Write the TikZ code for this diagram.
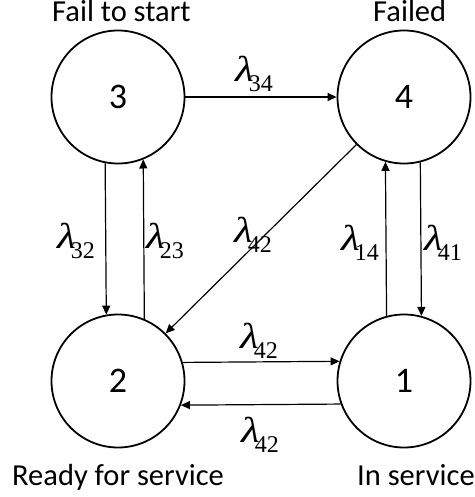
\documentclass[tikz,border=0pt]{standalone}
\usepackage{fontspec}
\setmainfont{Carlito}
\newfontfamily\lamfont{Liberation Serif}
\usetikzlibrary{arrows.meta}
% rate label: italic lambda with a lowered subscript
\newcommand{\rate}[1]{\scalebox{1.2}[1]{\lamfont\fontsize{36}{36}\selectfont\itshape λ}\kern-5pt\raisebox{-10pt}{\lamfont\fontsize{24}{24}\selectfont #1}}
\tikzset{
  state/.style={circle, draw, line width=1.8pt, minimum size=133pt, inner sep=0pt,
                font=\fontsize{36}{36}\selectfont},
  title/.style={font=\fontsize{30.5}{30.5}\selectfont, inner sep=0pt, anchor=base west},
  trans/.style={-{Triangle[length=9pt,width=8pt]}, line width=1.2pt},
  ratelbl/.style={inner sep=0pt, anchor=base west}
}
\begin{document}
\begin{tikzpicture}[x=1pt,y=-1pt]
\useasboundingbox (0,0) rectangle (474,497);
% states
\node[state] (n3) at (118,97) {3};
\node[state] (n4) at (404,97) {4};
\node[state] (n2) at (118,381) {2};
\node[state] (n1) at (404,381) {1};
% state names
\node[title] (t3) at (52,22) {Fail to start};
\node[title] (t4) at (373,22) {Failed};
\node[title] (t2) at (12,485) {Ready for service};
\node[title] (t1) at (357,485) {In service};
% transitions
\draw[trans] (n3.east) -- (n4.west);
\draw[trans] (n3.259.5) -- (n2.100.5);
\draw[trans] (n2.67.7) -- (n3.292.3);
\draw[trans] (n4.284.9) -- (n1.75.1);
\draw[trans] (n1.105.8) -- (n4.254.2);
\draw[trans] (n4.225) -- (n2.45);
\draw[trans] (n2.16.7) -- (n1.163.3);
\draw[trans] (n1.200.4) -- (n2.339.6);
% rates
\node[ratelbl] (r34) at (235,82) {\rate{34}};
\node[ratelbl] (r32) at (57,248) {\rate{32}};
\node[ratelbl] (r23) at (146,248) {\rate{23}};
\node[ratelbl] (r42d) at (234,242) {\rate{42}};
\node[ratelbl] (r14) at (341,250) {\rate{14}};
\node[ratelbl] (r41) at (424,250) {\rate{41}};
\node[ratelbl] (r21) at (240,348) {\rate{42}};
\node[ratelbl] (r12) at (241,442) {\rate{42}};
\end{tikzpicture}
\end{document}
